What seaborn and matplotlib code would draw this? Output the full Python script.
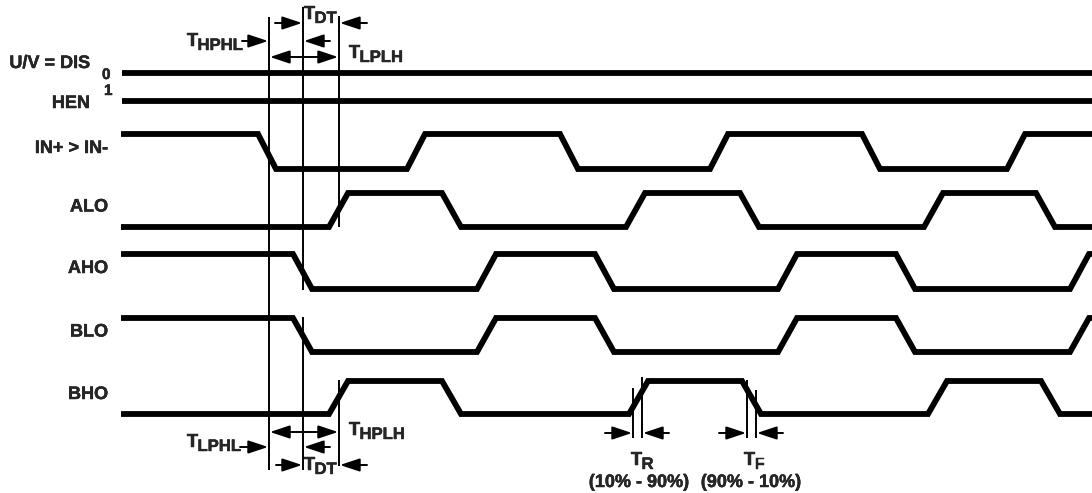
import matplotlib
matplotlib.use("Agg")
import matplotlib.pyplot as plt
import matplotlib.patheffects as pe
import numpy as np
import pandas as pd
import seaborn as sns

# signal names and edge times (start of each transition, in time units = px)
signals = ["IN+ > IN-", "ALO", "AHO", "BLO", "BHO"]
start_level = [1, 0, 1, 1, 0]
edges_in = [258, 407, 560, 710, 862, 1007]
edges_alo = [329, 442, 626, 740, 924, 1036]
edges_aho = [293, 477, 595, 778, 896, 1070]
edges_blo = [293, 477, 595, 778, 896, 1070]
edges_bho = [329, 442, 629, 742, 928, 1041]
all_edges = [edges_in, edges_alo, edges_aho, edges_blo, edges_bho]
rise_time = [18, 19, 19, 19, 19]

static_signals = ["U/V = DIS", "HEN"]
static_values = ["0", "1"]

T_START = 121
T_END = 1100

sns.set_theme(style="white")
plt.rcParams["font.family"] = ["Liberation Sans", "DejaVu Sans"]
plt.rcParams["font.weight"] = "bold"
plt.rcParams["lines.solid_joinstyle"] = "miter"
plt.rcParams["lines.solid_capstyle"] = "butt"

# layout of the rows (high y, low y) in figure pixels
row_high = [134, 193, 254, 318, 381]
row_low = [169, 227, 289, 352, 414]
static_y = [73, 101]

records = []
for name, lvl0, edges, tr, hi, lo in zip(signals, start_level, all_edges, rise_time, row_high, row_low):
    lvl = lvl0
    pts = [(T_START, lvl)]
    for e in edges:
        pts.append((e, lvl))
        lvl = 1 - lvl
        pts.append((e + tr, lvl))
    pts.append((T_END, lvl))
    for i, (t, l) in enumerate(pts):
        records.append({"signal": name, "order": i, "t": t, "y": lo - l * (lo - hi)})
for name, y in zip(static_signals, static_y):
    records.append({"signal": name, "order": 0, "t": T_START + 1, "y": y})
    records.append({"signal": name, "order": 1, "t": T_END, "y": y})
df = pd.DataFrame(records)

fig = plt.figure(figsize=(10.92, 4.93), dpi=100)
ax = fig.add_axes([0, 0, 1, 1])
sns.lineplot(data=df, x="t", y="y", units="signal", estimator=None, sort=False,
             color="black", linewidth=4.2, legend=False, ax=ax)
ax.set_xlim(0, 1092)
ax.set_ylim(493, 0)
ax.axis("off")

heavy = [pe.withStroke(linewidth=0.3, foreground="black")]


def label(x, y, s, size, ha="left", va="baseline"):
    ax.text(x, y, s, ha=ha, va=va, fontsize=size, fontweight="bold", path_effects=heavy)


# signal labels
for name, hi, lo in zip(signals, row_high, row_low):
    label(108, (hi + lo) / 2 - 3, name, 13, ha="right", va="center")
label(90, 68, static_signals[0], 13, ha="right")
label(90, 108, static_signals[1], 13, ha="right")
label(102, 79, static_values[0], 11)
label(104, 95, static_values[1], 11)

# timing marker lines
vl = dict(color="black", linewidth=1.4)
ax.vlines(269, 17, 470, **vl)
ax.vlines(303, 7, 290, **vl)
ax.vlines(303, 317, 470, **vl)
ax.vlines(339, 16, 227, **vl)
ax.vlines(339, 380, 466, **vl)
ax.vlines(633, 388, 438, **vl)
ax.vlines(642, 377, 438, **vl)
ax.vlines(747, 380, 438, **vl)
ax.vlines(756, 390, 438, **vl)


def arrow(x0, x1, y, style="-|>"):
    ax.annotate("", xy=(x1, y), xytext=(x0, y),
                arrowprops=dict(arrowstyle=style + ",head_length=0.6,head_width=0.2",
                                mutation_scale=20, color="black", lw=1.4,
                                shrinkA=0, shrinkB=0))


arrow(242, 268, 41)
arrow(275, 302, 23)
arrow(367, 340, 23)
arrow(330, 304, 41)
arrow(270, 338, 57, "<|-|>")
arrow(240, 268, 447)
arrow(270, 338, 432, "<|-|>")
arrow(330, 304, 447)
arrow(276, 302, 465)
arrow(367, 340, 465)
arrow(605, 632, 433)
arrow(669, 643, 433)
arrow(719, 746, 433)
arrow(783, 757, 433)


def tlabel(x, y, sub):
    label(x, y, "T", 13.5)
    label(x + 10.5, y + 4, sub, 12)


tlabel(187, 46, "HPHL")
tlabel(304, 19, "DT")
tlabel(349, 58, "LPLH")
tlabel(187, 447, "LPHL")
tlabel(349, 435, "HPLH")
tlabel(304, 470, "DT")
tlabel(631, 465, "R")
tlabel(744, 465, "F")
label(639, 487, "(10% - 90%)", 13, ha="center")
label(751, 487, "(90% - 10%)", 13, ha="center")

fig.savefig("out.png", dpi=100)
